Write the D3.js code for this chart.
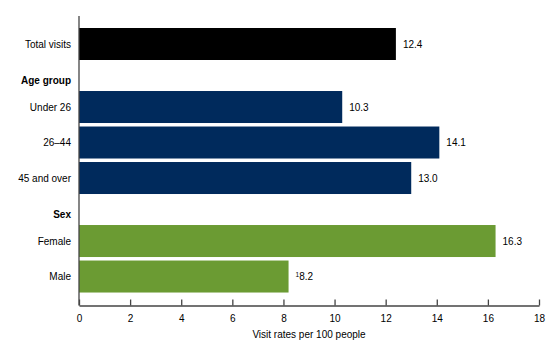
<!DOCTYPE html>
<html>
<head>
<meta charset="utf-8">
<script src="https://cdn.jsdelivr.net/npm/d3@7"></script>
<style>
  body { margin: 0; background: #fff; }
  text { font-family: "Liberation Sans", Arial, sans-serif; font-size: 10px; fill: #000; }
</style>
</head>
<body>
<div id="chart"></div>
<script>
// data
const categories = ["Total visits", "Under 26", "26\u201344", "45 and over", "Female", "Male"];
const groups = ["Total", "Age group", "Age group", "Age group", "Sex", "Sex"];
const values = [12.4, 10.3, 14.1, 13.0, 16.3, 8.2];
const footnotes = ["", "", "", "", "", "1"];
const groupHeaders = ["Age group", "Sex"];
const xTicks = [0, 2, 4, 6, 8, 10, 12, 14, 16, 18];
const xTitle = "Visit rates per 100 people";

const width = 560, height = 351;
const plotLeft = 79, plotRight = 539, plotTop = 16, axisY = 305.5;

const colors = {"Total": "#000000", "Age group": "#002a5c", "Sex": "#6b9b33"};

const svg = d3.select("#chart")
  .append("svg")
  .attr("width", width)
  .attr("height", height);

const x = d3.scaleLinear()
  .domain([0, 18])
  .range([plotLeft, plotRight]);

// slot position for each bar: one per bar plus a gap where a new group starts
const groupGap = 0.775;
let gi = 0;
const slots = categories.map(function(c, i) {
  if (i > 0 && groups[i] !== groups[i - 1]) gi++;
  return i + gi * groupGap;
});
const y = d3.scaleLinear()
  .domain([0, 1])
  .range([28, 63.5]);
const barH = 32;

const rows = categories.map(function(c, i) {
  return {name: c, group: groups[i], value: values[i], note: footnotes[i], slot: slots[i]};
});

// bars
svg.append("g")
  .selectAll("rect")
  .data(rows)
  .join("rect")
    .attr("x", x(0))
    .attr("y", d => y(d.slot))
    .attr("width", d => x(d.value) - x(0))
    .attr("height", barH)
    .attr("fill", d => colors[d.group]);

// category labels
svg.append("g")
  .selectAll("text")
  .data(rows)
  .join("text")
    .attr("x", plotLeft - 8)
    .attr("y", d => y(d.slot) + barH / 2 + 3.5)
    .attr("text-anchor", "end")
    .text(d => d.name);

// group headers, placed above the first bar of each group
const headerData = groupHeaders.map(function(h) {
  const first = rows.find(r => r.group === h);
  return {name: h, slot: first.slot};
});
svg.append("g")
  .selectAll("text")
  .data(headerData)
  .join("text")
    .attr("x", plotLeft - 8)
    .attr("y", d => y(d.slot) - 11 + 3.5)
    .attr("text-anchor", "end")
    .style("font-weight", "bold")
    .text(d => d.name);

// value labels
const vl = svg.append("g")
  .selectAll("text")
  .data(rows)
  .join("text")
    .attr("x", d => x(d.value) + 7)
    .attr("y", d => y(d.slot) + barH / 2 + 3.5);
vl.filter(d => d.note).append("tspan")
  .style("font-size", "6.5px")
  .attr("dy", -3.5)
  .text(d => d.note);
vl.append("tspan")
  .attr("dy", d => d.note ? 3.5 : 0)
  .text(d => d.value.toFixed(1));

// x axis, ticks pointing up
const xAxis = svg.append("g")
  .attr("transform", `translate(0,${axisY})`)
  .call(d3.axisBottom(x).tickValues(xTicks).tickSizeInner(-6).tickSizeOuter(0).tickPadding(9));
xAxis.select(".domain").attr("stroke", "#444").attr("stroke-width", 1.3);
xAxis.selectAll(".tick line").attr("stroke", "#444").attr("stroke-width", 1.3);
xAxis.selectAll(".tick text")
  .style("font-family", "Liberation Sans, Arial, sans-serif")
  .style("font-size", "10px")
  .attr("fill", "#000");

// vertical axis line
svg.append("line")
  .attr("x1", x(0)).attr("x2", x(0))
  .attr("y1", plotTop).attr("y2", axisY)
  .attr("stroke", "#444")
  .attr("stroke-width", 1.3);

// axis title
svg.append("text")
  .attr("x", (plotLeft + plotRight) / 2)
  .attr("y", 337.5)
  .attr("text-anchor", "middle")
  .text(xTitle);
</script>
</body>
</html>
